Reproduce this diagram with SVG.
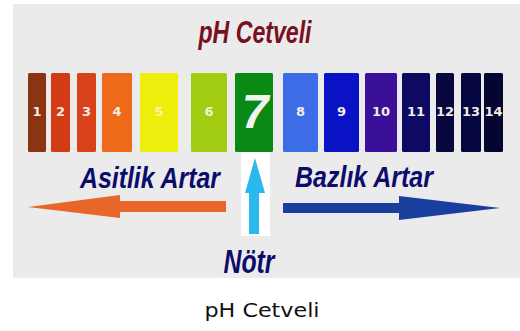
<svg xmlns="http://www.w3.org/2000/svg" width="520" height="331" viewBox="0 0 520 331">
<style>
.num{font-family:"DejaVu Sans","Liberation Sans",sans-serif;font-weight:bold;font-size:13px;fill:#f4ece6;text-anchor:middle}
.lbl{font-family:"Liberation Sans Narrow","Liberation Sans",sans-serif;font-weight:bold;font-style:italic;fill:#0c0c6c}
.bar{stroke:none}
</style>
<rect x="0" y="0" width="520" height="331" fill="#ffffff"/>
<rect x="13" y="4" width="507" height="274" fill="#ebebeb"/>
<g id="title">
<text x="255" y="43" text-anchor="middle" font-family="Liberation Sans Narrow, Liberation Sans, sans-serif" font-weight="bold" font-style="italic" font-size="31" fill="#7a0f22" textLength="113" lengthAdjust="spacingAndGlyphs">pH Cetveli</text>
</g>
<g id="bar1"><rect class="bar" x="28" y="73" width="18" height="79" rx="1.5" fill="#8c3412"/><text class="num" x="37" y="116">1</text></g>
<g id="bar2"><rect class="bar" x="51" y="73" width="19" height="79" rx="1.5" fill="#d23c14"/><text class="num" x="60.5" y="116">2</text></g>
<g id="bar3"><rect class="bar" x="77" y="73" width="19" height="79" rx="1.5" fill="#d8421a"/><text class="num" x="86.5" y="116">3</text></g>
<g id="bar4"><rect class="bar" x="102" y="73" width="30" height="79" rx="1.5" fill="#ec6a1a"/><text class="num" x="117" y="116">4</text></g>
<g id="bar5"><rect class="bar" x="140" y="73" width="38" height="79" rx="1.5" fill="#eeee0c"/><text class="num" x="159" y="116" style="fill:#f6f6a8">5</text></g>
<g id="bar6"><rect class="bar" x="191" y="73" width="36" height="79" rx="1.5" fill="#a2cc12"/><text class="num" x="209" y="116" style="fill:#eef6d0">6</text></g>
<g id="bar7"><rect class="bar" x="235" y="73" width="38" height="79" rx="1.5" fill="#0a8a14"/><text x="255" y="128" text-anchor="middle" font-family="Liberation Sans, sans-serif" font-weight="bold" font-style="italic" font-size="48" fill="#f2f2f2">7</text></g>
<g id="bar8"><rect class="bar" x="283" y="73" width="35" height="79" rx="1.5" fill="#3c6ce6"/><text class="num" x="300.5" y="116">8</text></g>
<g id="bar9"><rect class="bar" x="324" y="73" width="35" height="79" rx="1.5" fill="#0a12c6"/><text class="num" x="341.5" y="116">9</text></g>
<g id="bar10"><rect class="bar" x="365" y="73" width="32" height="79" rx="1.5" fill="#3a1098"/><text class="num" x="381" y="116">10</text></g>
<g id="bar11"><rect class="bar" x="402" y="73" width="28" height="79" rx="1.5" fill="#0c0a62"/><text class="num" x="416" y="116">11</text></g>
<g id="bar12"><rect class="bar" x="436" y="73" width="18" height="79" rx="1.5" fill="#07073e"/><text class="num" x="445" y="116">12</text></g>
<g id="bar13"><rect class="bar" x="461" y="73" width="20" height="79" rx="1.5" fill="#060640"/><text class="num" x="471" y="116">13</text></g>
<g id="bar14"><rect class="bar" x="484" y="73" width="19" height="79" rx="1.5" fill="#050532"/><text class="num" x="493.5" y="116">14</text></g>
<g id="connectors">
<polygon points="226,201 120,201 120,195 28,207 120,218 120,212 226,212" fill="#e8662a"/>
<polygon points="283,203 399,203 399,196 500,208 399,220 399,213 283,213" fill="#1a3e9e"/>
<rect x="241" y="152" width="29" height="84" fill="#ffffff"/>
<polygon points="249,234 249,193 245,193 255,158 265,193 259,193 259,234" fill="#2bb8ee"/>
</g>
<g id="acid"><text class="lbl" x="150" y="188" text-anchor="middle" font-size="30" textLength="140" lengthAdjust="spacingAndGlyphs">Asitlik Artar</text></g>
<g id="base"><text class="lbl" x="364" y="187" text-anchor="middle" font-size="30" textLength="138" lengthAdjust="spacingAndGlyphs">Bazlık Artar</text></g>
<g id="neutral"><text class="lbl" x="249" y="273" text-anchor="middle" font-size="34" textLength="51" lengthAdjust="spacingAndGlyphs">Nötr</text></g>
<g id="caption"><text x="262" y="317" text-anchor="middle" font-family="DejaVu Sans, sans-serif" font-size="20" fill="#111111" textLength="115" lengthAdjust="spacingAndGlyphs">pH Cetveli</text></g>
</svg>
